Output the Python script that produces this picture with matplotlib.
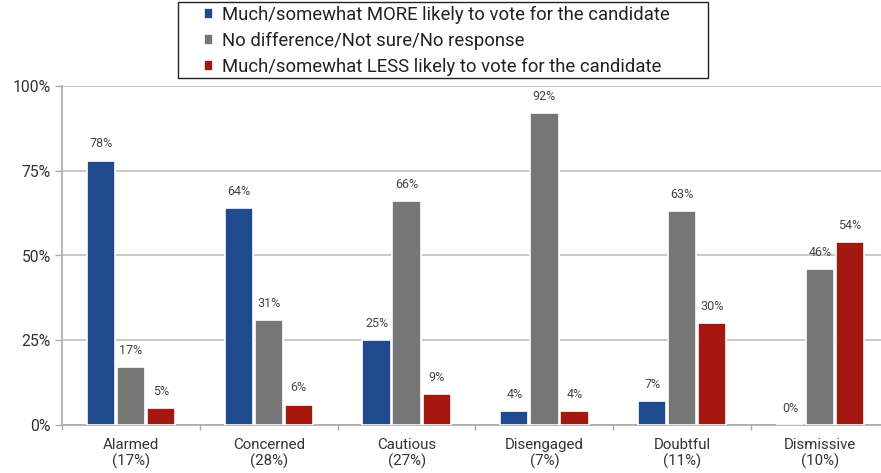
import matplotlib
matplotlib.use("Agg")
import matplotlib.pyplot as plt
from matplotlib.patches import Rectangle
import numpy as np

plt.rcParams['font.family'] = ['Roboto', 'DejaVu Sans']

categories = ["Alarmed\n(17%)", "Concerned\n(28%)", "Cautious\n(27%)",
              "Disengaged\n(7%)", "Doubtful\n(11%)", "Dismissive\n(10%)"]
more_likely = [78, 64, 25, 4, 7, 0]
no_difference = [17, 31, 66, 92, 63, 46]
less_likely = [5, 6, 9, 4, 30, 54]
series_names = ["Much/somewhat MORE likely to vote for the candidate",
                "No difference/Not sure/No response",
                "Much/somewhat LESS likely to vote for the candidate"]
colors = ["#1f4b8e", "#767676", "#a5180f"]
yticks = [0, 25, 50, 75, 100]

W, H = 881, 473
fig = plt.figure(figsize=(W / 100, H / 100), dpi=100)
ax = fig.add_axes([62 / W, 1 - 425 / H, 827 / W, 339 / H])

x = np.arange(len(categories))
w = 0.205
off = 0.218
series = [more_likely, no_difference, less_likely]
for i, (vals, name, c) in enumerate(zip(series, series_names, colors)):
    pos = x + (i - 1) * off
    ax.bar(pos, vals, width=w, color=c, edgecolor="white", linewidth=1.2,
           label=name, zorder=3)
    for p, v in zip(pos, vals):
        ax.text(p, v + 3, f"{v}%", ha="center", va="bottom", fontsize=9,
                color="#444444", zorder=4)

ax.set_xlim(-0.5, len(categories) - 0.5)
ax.set_ylim(0, 100)
ax.set_yticks(yticks)
ax.set_yticklabels([f"{t}%" for t in yticks], fontsize=11.3, color="#333333")
ax.yaxis.grid(True, color="#c4c4c4", linewidth=1.3, zorder=0)
ax.set_axisbelow(True)

ax.set_xticks(x)
ax.set_xticklabels(categories, fontsize=10.8, color="#333333", linespacing=1.12)
ax.set_xticks(np.arange(-0.5, len(categories), 1), minor=True)
ax.tick_params(axis="x", which="major", length=0, pad=9.5)
ax.tick_params(axis="x", which="minor", length=3.5, color="#aaaaaa", width=1)
ax.tick_params(axis="y", length=5, color="#aaaaaa", width=1, pad=3)

for s in ["top", "right"]:
    ax.spines[s].set_visible(False)
for s in ["left", "bottom"]:
    ax.spines[s].set_color("#aaaaaa")
    ax.spines[s].set_linewidth(1.2)

# legend frame drawn as a figure-level box
fig.patches.append(Rectangle((178 / W, 1 - 78 / H), 530 / W, 76 / H,
                             transform=fig.transFigure, fill=False,
                             edgecolor="#222222", linewidth=1.0))
leg = fig.legend(loc="upper left", bbox_to_anchor=(204 / W, 1 - 6 / H),
                 fontsize=13.3, frameon=False,
                 handlelength=0.5, handleheight=0.5, handletextpad=0.5,
                 borderpad=0, labelspacing=0.42, borderaxespad=0)
for t in leg.get_texts():
    t.set_color("#222222")

fig.savefig("out.png", dpi=100)
